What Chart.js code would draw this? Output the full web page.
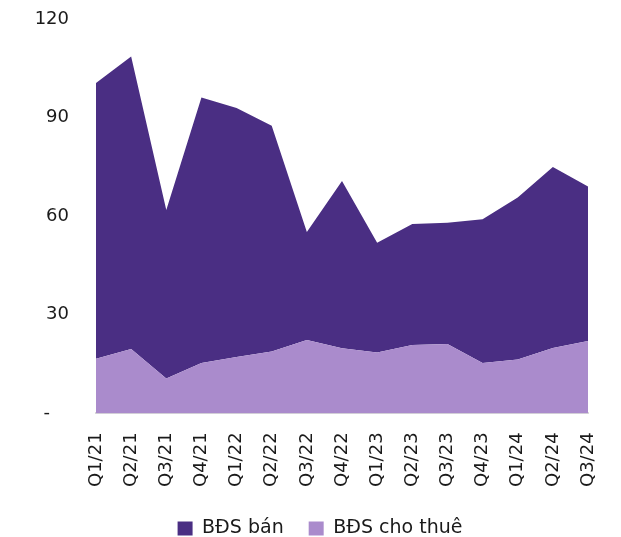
<!DOCTYPE html>
<html>
<head>
<meta charset="utf-8">
<script src="https://cdn.jsdelivr.net/npm/chart.js@4.4.1/dist/chart.umd.min.js"></script>
<style>
  html, body { margin: 0; padding: 0; background: #fff; overflow: hidden; }
  #wrap { width: 621px; height: 537px; }
</style>
</head>
<body>
<div id="wrap"><canvas id="chart"></canvas></div>
<script>
// quý
var quarters = ['Q1/21', 'Q2/21', 'Q3/21', 'Q4/21', 'Q1/22', 'Q2/22', 'Q3/22', 'Q4/22',
                'Q1/23', 'Q2/23', 'Q3/23', 'Q4/23', 'Q1/24', 'Q2/24', 'Q3/24'];
// BĐS cho thuê (lớp dưới)
var rentValues = [16.6, 19.6, 10.6, 15.3, 17.2, 18.8, 22.3, 19.8,
                  18.5, 20.8, 21.1, 15.3, 16.4, 19.9, 22.0];
// BĐS bán (xếp chồng lên trên)
var saleValues = [83.9, 89.0, 51.3, 80.8, 75.7, 68.7, 32.9, 50.9,
                  33.4, 36.8, 36.9, 43.8, 49.3, 55.1, 47.0];
var yTicks = [0, 30, 60, 90, 120];

var darkColor = '#4a2e83';
var lightColor = '#aa8bcc';
var fontFamily = '"DejaVu Sans", sans-serif';

Chart.defaults.font.family = fontFamily;
Chart.defaults.color = '#1a1a1a';

/* dời chú thích sang phải một chút */
var legendShift = {
    id: 'legendShift',
    afterLayout: function (chart) {
        if (chart.legend) {
            chart.legend.left += 26;
            chart.legend.right += 26;
        }
    }
};

var ctx = document.getElementById('chart');
var myChart = new Chart(ctx, {
    type: 'line',
    data: {
        labels: quarters,
        datasets: [{
            label: 'BĐS cho thuê',
            data: rentValues,
            backgroundColor: lightColor,
            borderWidth: 0,
            pointRadius: 0,
            tension: 0,
            fill: 'origin'
        }, {
            label: 'BĐS bán',
            data: saleValues,
            backgroundColor: darkColor,
            borderWidth: 0,
            pointRadius: 0,
            tension: 0,
            fill: '-1'
        }]
    },
    plugins: [legendShift],
    options: {
        responsive: true,
        maintainAspectRatio: false,
        animation: false,
        layout: {
            padding: { left: 0, right: 33, top: 19, bottom: -11 }
        },
        scales: {
            x: {
                stacked: true,
                offset: false,
                grid: { display: false, drawTicks: false },
                border: { display: true, color: '#d9d9d9', width: 2 },
                afterFit: function (scale) {
                    scale.height -= 12;
                    scale.paddingRight = 0;
                    scale.paddingLeft = 0;
                },
                ticks: {
                    minRotation: 90,
                    maxRotation: 90,
                    autoSkip: false,
                    padding: 19,
                    font: { size: 18 },
                    color: '#1a1a1a'
                }
            },
            y: {
                stacked: true,
                min: 0,
                max: 120,
                grid: { display: false, drawTicks: false },
                border: { display: false },
                afterFit: function (scale) {
                    scale.width = 96;
                    scale.paddingTop = 0;
                    scale.paddingBottom = 0;
                },
                afterBuildTicks: function (scale) {
                    scale.ticks = yTicks.map(function (v) { return { value: v }; });
                },
                ticks: {
                    padding: 27,
                    font: { size: 18 },
                    color: '#1a1a1a',
                    callback: function (value) {
                        return value === 0 ? '-   \u200A' : '' + value;
                    }
                }
            }
        },
        plugins: {
            tooltip: { enabled: false },
            legend: {
                position: 'bottom',
                reverse: true,
                labels: {
                    boxWidth: 15,
                    boxHeight: 14,
                    padding: 25,
                    font: { size: 19 },
                    color: '#1a1a1a'
                }
            }
        }
    }
});
</script>
</body>
</html>
